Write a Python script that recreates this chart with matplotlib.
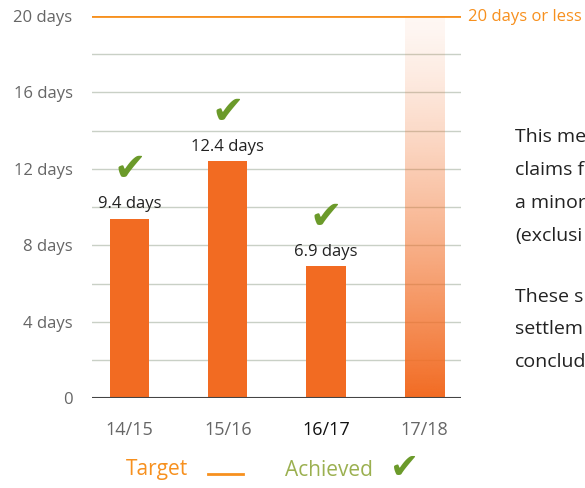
import matplotlib.pyplot as plt
import numpy as np

plt.rcParams['font.family'] = ['Open Sans', 'DejaVu Sans']

# data
years = ['14/15', '15/16', '16/17', '17/18']
days = [9.4, 12.4, 6.9]
achieved = [True, True, True]
target = 20
ytick_vals = [0, 4, 8, 12, 16, 20]
ytick_labels = ['0', '4 days', '8 days', '12 days', '16 days', '20 days']
side_lines = ['This me', 'claims f', 'a minor', '(exclusi',
              'These s', 'settlem', 'conclud']

orange = '#f26b22'
line_orange = '#f7901e'
green = '#6b9a2a'
light_green = '#9bb050'

fig = plt.figure(figsize=(5.85, 4.88), dpi=100)
ax = fig.add_axes([0.1573, 0.1838, 0.6308, 0.7834])

x = np.arange(len(years))
w = 0.40

# grid every 2 days
for g in range(2, 20, 2):
    ax.axhline(g, color='#c9d0c6', lw=1, zorder=0)

ax.bar(x[:3], days, width=w, color=orange, zorder=2)

# 17/18: faded bar, year not finished
grad = np.linspace(1, 0, 256).reshape(-1, 1)
rgba = np.zeros((256, 1, 4))
rgba[..., 0] = 0xf2 / 255
rgba[..., 1] = 0x6b / 255
rgba[..., 2] = 0x22 / 255
rgba[..., 3] = 0.05 + 0.95 * grad ** 1.3
ax.imshow(rgba, extent=[x[3] - w / 2, x[3] + w / 2, 0, target],
          origin='lower', aspect='auto', zorder=1, interpolation='bilinear')

ax.axhline(target, color=line_orange, lw=2, zorder=3)
ax.axhline(0, color='#444444', lw=1.5, zorder=3)

for i, v in enumerate(days):
    ax.text(x[i], v + 0.35, f'{v} days', ha='center', va='bottom',
            fontsize=12, color='#222222')
    if achieved[i]:
        ax.text(x[i], v + 2.6, '\u2714', ha='center', va='center',
                fontsize=28, color=green, family='DejaVu Sans')

ax.set_xlim(-0.381, 3.372)
ax.set_ylim(0, 20)
ax.set_yticks(ytick_vals)
ax.set_yticklabels(ytick_labels, fontsize=12, color='#666666')
ax.set_xticks(x)
ax.set_xticklabels(years, fontsize=13, color='#666666')
ax.get_xticklabels()[2].set_color('#111111')
ax.tick_params(axis='y', length=0, pad=14)
ax.tick_params(axis='x', length=0, pad=16)
for s in ax.spines.values():
    s.set_visible(False)

fig.text(468 / 585, 1 - 17 / 488, '20 days or less', color=line_orange,
         fontsize=12, va='center', ha='left')

# side text (cut off at the edge in the original)
side_y = [137, 170, 203, 236, 297, 329, 362]
for t, yp in zip(side_lines, side_y):
    fig.text(515 / 585, 1 - yp / 488, t, fontsize=14, color='#222222',
             va='center', ha='left')

# legend
fig.text(126 / 585, 1 - 470 / 488, 'Target', fontsize=15, color=line_orange,
         va='center', ha='left')
fig.add_artist(plt.Line2D([208 / 585, 243 / 585], [1 - 474 / 488, 1 - 474 / 488],
                          color=line_orange, lw=2))
fig.text(285 / 585, 1 - 470 / 488, 'Achieved', fontsize=15, color=light_green,
         va='center', ha='left')
fig.text(390 / 585, 1 - 468 / 488, '\u2714', fontsize=25, color=green,
         va='center', ha='left', family='DejaVu Sans')

plt.savefig('out.png', dpi=100)
